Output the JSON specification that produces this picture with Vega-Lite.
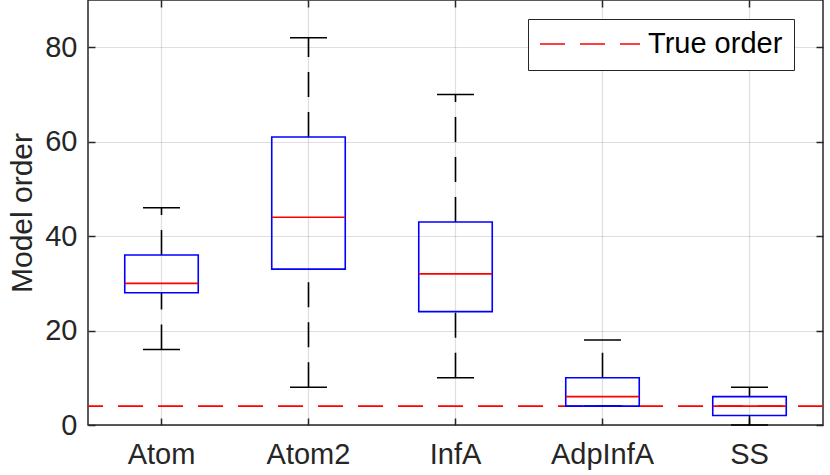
{
  "$schema": "https://vega.github.io/schema/vega-lite/v6.json",
  "width": 735,
  "height": 425,
  "autosize": {"type": "none"},
  "padding": {"left": 88, "top": 0, "right": 7, "bottom": 50},
  "data": {
    "values": [
      {"method": "Atom", "lower": 16, "q1": 28, "median": 30, "q3": 36, "upper": 46},
      {"method": "Atom2", "lower": 8, "q1": 33, "median": 44, "q3": 61, "upper": 82},
      {"method": "InfA", "lower": 10, "q1": 24, "median": 32, "q3": 43, "upper": 70},
      {"method": "AdpInfA", "lower": 4, "q1": 4, "median": 6, "q3": 10, "upper": 18},
      {"method": "SS", "lower": 0, "q1": 2, "median": 4, "q3": 6, "upper": 8}
    ]
  },
  "resolve": {"axis": {"x": "independent", "y": "independent"}},
  "layer": [
    {
      "data": {"values": [{"series": "True order", "order": 4}]},
      "mark": {"type": "rule", "strokeDash": [25, 15], "strokeWidth": 1.6},
      "encoding": {
        "y": {"field": "order", "type": "quantitative", "scale": {"domain": [0, 90], "nice": false}, "axis": null},
        "color": {
          "field": "series",
          "type": "nominal",
          "scale": {"range": ["#ff0000"]},
          "legend": {
            "title": null,
            "orient": "none",
            "legendX": 440,
            "legendY": 19,
            "symbolType": "stroke",
            "symbolSize": 10000,
            "symbolDash": [25, 15],
            "symbolStrokeWidth": 1.6,
            "labelFontSize": 29,
            "labelColor": "#000000",
            "labelOffset": 7,
            "strokeColor": "#262626",
            "fillColor": "#ffffff",
            "padding": 11,
            "clipHeight": 28
          }
        }
      }
    },
    {
      "mark": {"type": "rule", "color": "#000000", "strokeWidth": 1.6, "strokeDash": [25, 15]},
      "encoding": {
        "x": {"field": "method", "type": "nominal", "sort": null, "axis": null},
        "y": {"field": "lower", "type": "quantitative", "scale": {"domain": [0, 90], "nice": false}, "axis": null},
        "y2": {"field": "q1"}
      }
    },
    {
      "mark": {"type": "rule", "color": "#000000", "strokeWidth": 1.6, "strokeDash": [25, 15]},
      "encoding": {
        "x": {"field": "method", "type": "nominal", "sort": null, "axis": null},
        "y": {"field": "q3", "type": "quantitative", "scale": {"domain": [0, 90], "nice": false}, "axis": null},
        "y2": {"field": "upper"}
      }
    },
    {
      "mark": {"type": "tick", "color": "#000000", "opacity": 1, "size": 37, "thickness": 1.6},
      "encoding": {
        "x": {
          "field": "method",
          "type": "nominal",
          "sort": null,
          "axis": {"orient": "top", "title": null, "labels": false, "domain": false, "grid": false, "tickSize": -7, "tickColor": "#262626", "tickWidth": 1.5}
        },
        "y": {
          "field": "upper",
          "type": "quantitative",
          "scale": {"domain": [0, 90], "nice": false},
          "axis": {"orient": "right", "title": null, "labels": false, "domain": false, "grid": false, "values": [0, 20, 40, 60, 80], "tickSize": -7, "tickColor": "#262626", "tickWidth": 1.5}
        }
      }
    },
    {
      "mark": {"type": "tick", "color": "#000000", "opacity": 1, "size": 37, "thickness": 1.6},
      "encoding": {
        "x": {"field": "method", "type": "nominal", "sort": null, "axis": null},
        "y": {"field": "lower", "type": "quantitative", "scale": {"domain": [0, 90], "nice": false}, "axis": null}
      }
    },
    {
      "mark": {"type": "bar", "width": {"band": 0.5}, "fillOpacity": 0, "stroke": "#0000ff", "strokeWidth": 1.6},
      "encoding": {
        "x": {
          "field": "method",
          "type": "nominal",
          "sort": null,
          "scale": {"paddingInner": 0, "paddingOuter": 0},
          "axis": {
            "title": null,
            "labelAngle": 0,
            "labelFontSize": 29,
            "labelColor": "#262626",
            "labelPadding": 22,
            "tickSize": -7,
            "tickColor": "#262626",
            "tickWidth": 1.5,
            "domain": false,
            "grid": true,
            "gridColor": "#262626",
            "gridOpacity": 0.15,
            "gridWidth": 1.2
          }
        },
        "y": {
          "field": "q1",
          "type": "quantitative",
          "scale": {"domain": [0, 90], "nice": false},
          "axis": {
            "title": "Model order",
            "titleFontSize": 30,
            "titleFontWeight": "normal",
            "titleColor": "#262626",
            "titlePadding": 7,
            "values": [0, 20, 40, 60, 80],
            "labelFontSize": 29,
            "labelColor": "#262626",
            "labelPadding": 18,
            "tickSize": -7,
            "tickColor": "#262626",
            "tickWidth": 1.5,
            "domain": false,
            "grid": true,
            "gridColor": "#262626",
            "gridOpacity": 0.15,
            "gridWidth": 1.2
          }
        },
        "y2": {"field": "q3"}
      }
    },
    {
      "mark": {"type": "tick", "color": "#ff0000", "opacity": 1, "size": 73, "thickness": 1.6},
      "encoding": {
        "x": {"field": "method", "type": "nominal", "sort": null, "axis": null},
        "y": {"field": "median", "type": "quantitative", "scale": {"domain": [0, 90], "nice": false}, "axis": null}
      }
    }
  ],
  "config": {
    "font": "Liberation Sans",
    "view": {"stroke": "#262626", "strokeWidth": 1.5}
  }
}
